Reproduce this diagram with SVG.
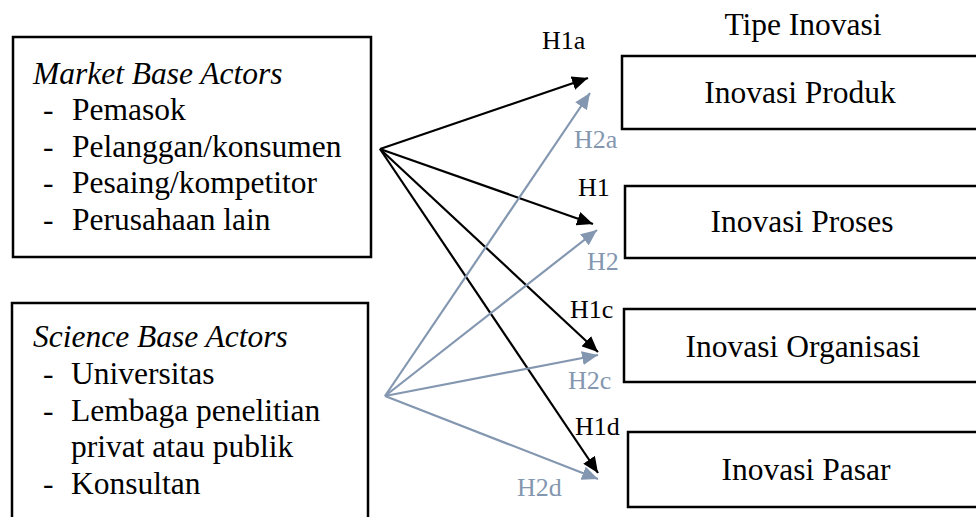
<svg xmlns="http://www.w3.org/2000/svg" width="976" height="517" viewBox="0 0 976 517" font-family="'Liberation Serif', 'Times New Roman', Times, serif">
<style>
  text { font-family: 'Liberation Serif', 'Times New Roman', Times, serif; fill: #000; }
  .main { font-size: 31.5px; }
  .it { font-style: italic; }
  .mid { text-anchor: middle; }
  .lbl { font-size: 26px; }
  .g { fill: #8497B0; }
  .box { fill: #fff; stroke: #000; stroke-width: 2.5; }
  .ab { stroke: #000; stroke-width: 2.2; fill: none; marker-end: url(#hb); }
  .ag { stroke: #8497B0; stroke-width: 2.2; fill: none; marker-end: url(#hg); }
</style>
<defs>
  <marker id="hb" markerUnits="userSpaceOnUse" markerWidth="18" markerHeight="14" refX="16" refY="7" orient="auto" viewBox="0 0 18 14">
    <path d="M0,0 L16,7 L0,14 Z" fill="#000"/>
  </marker>
  <marker id="hg" markerUnits="userSpaceOnUse" markerWidth="18" markerHeight="14" refX="16" refY="7" orient="auto" viewBox="0 0 18 14">
    <path d="M0,0 L16,7 L0,14 Z" fill="#8497B0"/>
  </marker>
</defs>
<rect width="976" height="517" fill="#fff"/>

<g id="market">
  <rect class="box" x="13" y="37" width="358" height="220"/>
  <text class="main it" x="33" y="84">Market Base Actors</text>
  <text class="main" x="43" y="120">-</text><text class="main" x="72" y="120">Pemasok</text>
  <text class="main" x="43" y="157">-</text><text class="main" x="72" y="157">Pelanggan/konsumen</text>
  <text class="main" x="43" y="193">-</text><text class="main" x="72" y="193">Pesaing/kompetitor</text>
  <text class="main" x="43" y="230">-</text><text class="main" x="72" y="230">Perusahaan lain</text>
</g>

<g id="science">
  <rect class="box" x="12" y="303" width="356" height="240"/>
  <text class="main it" x="33" y="347">Science Base Actors</text>
  <text class="main" x="43" y="384">-</text><text class="main" x="71" y="384">Universitas</text>
  <text class="main" x="43" y="421">-</text><text class="main" x="71" y="421">Lembaga penelitian</text>
  <text class="main" x="71" y="457">privat atau publik</text>
  <text class="main" x="43" y="494">-</text><text class="main" x="71" y="494">Konsultan</text>
</g>

<g id="title">
  <text class="main mid" x="803" y="35">Tipe Inovasi</text>
</g>

<g id="produk">
  <rect class="box" x="622" y="56" width="380" height="73"/>
  <text class="main mid" x="800" y="103">Inovasi Produk</text>
</g>
<g id="proses">
  <rect class="box" x="625" y="186" width="380" height="72"/>
  <text class="main mid" x="802" y="232">Inovasi Proses</text>
</g>
<g id="organisasi">
  <rect class="box" x="624" y="309" width="380" height="73"/>
  <text class="main mid" x="803" y="357">Inovasi Organisasi</text>
</g>
<g id="pasar">
  <rect class="box" x="628" y="432" width="380" height="75"/>
  <text class="main mid" x="806" y="480">Inovasi Pasar</text>
</g>

<g id="connectors">
  <line class="ab" x1="380" y1="149" x2="588" y2="78"/>
  <line class="ab" x1="380" y1="149" x2="593" y2="224"/>
  <line class="ab" x1="380" y1="149" x2="598" y2="352"/>
  <line class="ab" x1="380" y1="149" x2="598" y2="473"/>
  <line class="ag" x1="385" y1="396" x2="590" y2="93"/>
  <line class="ag" x1="385" y1="396" x2="597" y2="230"/>
  <line class="ag" x1="385" y1="396" x2="598" y2="355"/>
  <line class="ag" x1="385" y1="396" x2="598" y2="479"/>
</g>

<g id="labels">
  <text class="lbl" x="542" y="49">H1a</text>
  <text class="lbl g" x="574" y="148">H2a</text>
  <text class="lbl" x="578" y="196">H1</text>
  <text class="lbl g" x="587" y="270">H2</text>
  <text class="lbl" x="570" y="318">H1c</text>
  <text class="lbl g" x="568" y="389">H2c</text>
  <text class="lbl" x="575" y="435">H1d</text>
  <text class="lbl g" x="517" y="496">H2d</text>
</g>
</svg>
